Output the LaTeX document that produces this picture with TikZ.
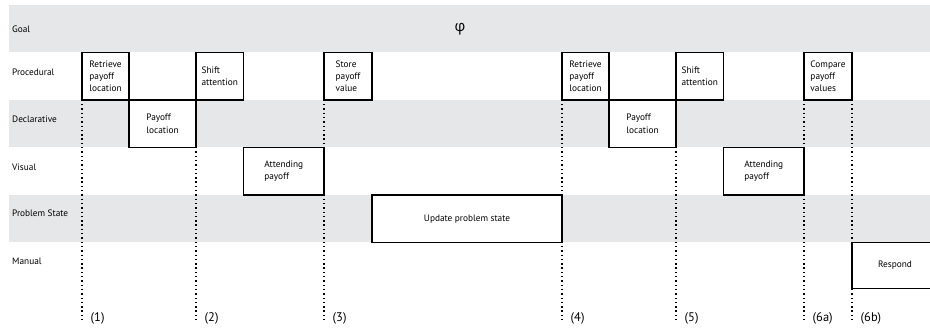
\documentclass[tikz,border=0pt]{standalone}
\usepackage{fontspec}
\setmainfont{PT Sans}
\newfontfamily\greekfont{Open Sans}
\usetikzlibrary{positioning}
\definecolor{bandgray}{RGB}{230,231,232}

\begin{document}
\begin{tikzpicture}[x=1pt, y=-1pt, font=\fontsize{9.3}{12.2}\selectfont,
    band/.style={fill=bandgray},
    act/.style={draw, fill=white, line width=1.1pt, minimum height=47.5pt, inner sep=0pt, outer sep=0pt, align=left, anchor=north west},
    lane/.style={anchor=west, inner sep=0pt},
    marker/.style={line width=1.3pt, dash pattern=on 1.4pt off 2.9pt},
    stamp/.style={anchor=base west, inner sep=0pt, font=\fontsize{12.5}{14}\selectfont}]
    \useasboundingbox (0,0) rectangle (930,331);

    % shaded rows
    \fill[band] (9,5) rectangle (930,52.5);
    \fill[band] (9,100) rectangle (930,147.5);
    \fill[band] (9,195) rectangle (930,242.5);

    \node[lane] (goal) at (12,29) {Goal};
    \node[lane] (proc) at (12,72.5) {Procedural};
    \node[lane] (decl) at (12,119.5) {Declarative};
    \node[lane] (vis) at (12,167) {Visual};
    \node[lane] (pstate) at (12,213.5) {Problem State};
    \node[lane] (manual) at (12,261) {Manual};
    \node[inner sep=0pt, font=\greekfont\fontsize{15}{15}\selectfont] (phi) at (460,29) {φ};

    % time markers
    \foreach \x/\lab/\nm in {82/{(1)}/a, 196/{(2)}/b, 324/{(3)}/c, 562/{(4)}/d, 676/{(5)}/e, 804/{(6a)}/f, 852/{(6b)}/g} {
        \coordinate (top\nm) at (\x,52.5);
        \coordinate (bot\nm) at (\x,323);
        \draw[marker] (top\nm) -- (bot\nm);
        \node[stamp] (lab\nm) at (\x+8.5,322) {\lab};
    }

    % first cycle
    \node[act, minimum width=47pt] (retA) at (82,52.5) {Retrieve\\payoff\\location};
    \node[act, minimum width=67pt] (locA) at (129,100) {Payoff\\location};
    \node[act, minimum width=47.5pt] (shiftA) at (196,52.5) {Shift\\attention};
    \node[act, minimum width=80.5pt] (attA) at (243.5,147.5) {Attending\\payoff};
    \node[act, minimum width=48pt] (store) at (324,52.5) {Store\\payoff\\value};
    \node[act, minimum width=190pt] (update) at (372,195) {Update problem state};

    % second cycle
    \node[act, minimum width=47pt] (retB) at (562,52.5) {Retrieve\\payoff\\location};
    \node[act, minimum width=67pt] (locB) at (609,100) {Payoff\\location};
    \node[act, minimum width=47.5pt] (shiftB) at (676,52.5) {Shift\\attention};
    \node[act, minimum width=80.5pt] (attB) at (723.5,147.5) {Attending\\payoff};
    \node[act, minimum width=48pt] (compare) at (804,52.5) {Compare\\payoff\\values};
    \node[act, minimum width=86pt, minimum height=46pt] (respond) at (852,242.5) {Respond};
\end{tikzpicture}
\end{document}
